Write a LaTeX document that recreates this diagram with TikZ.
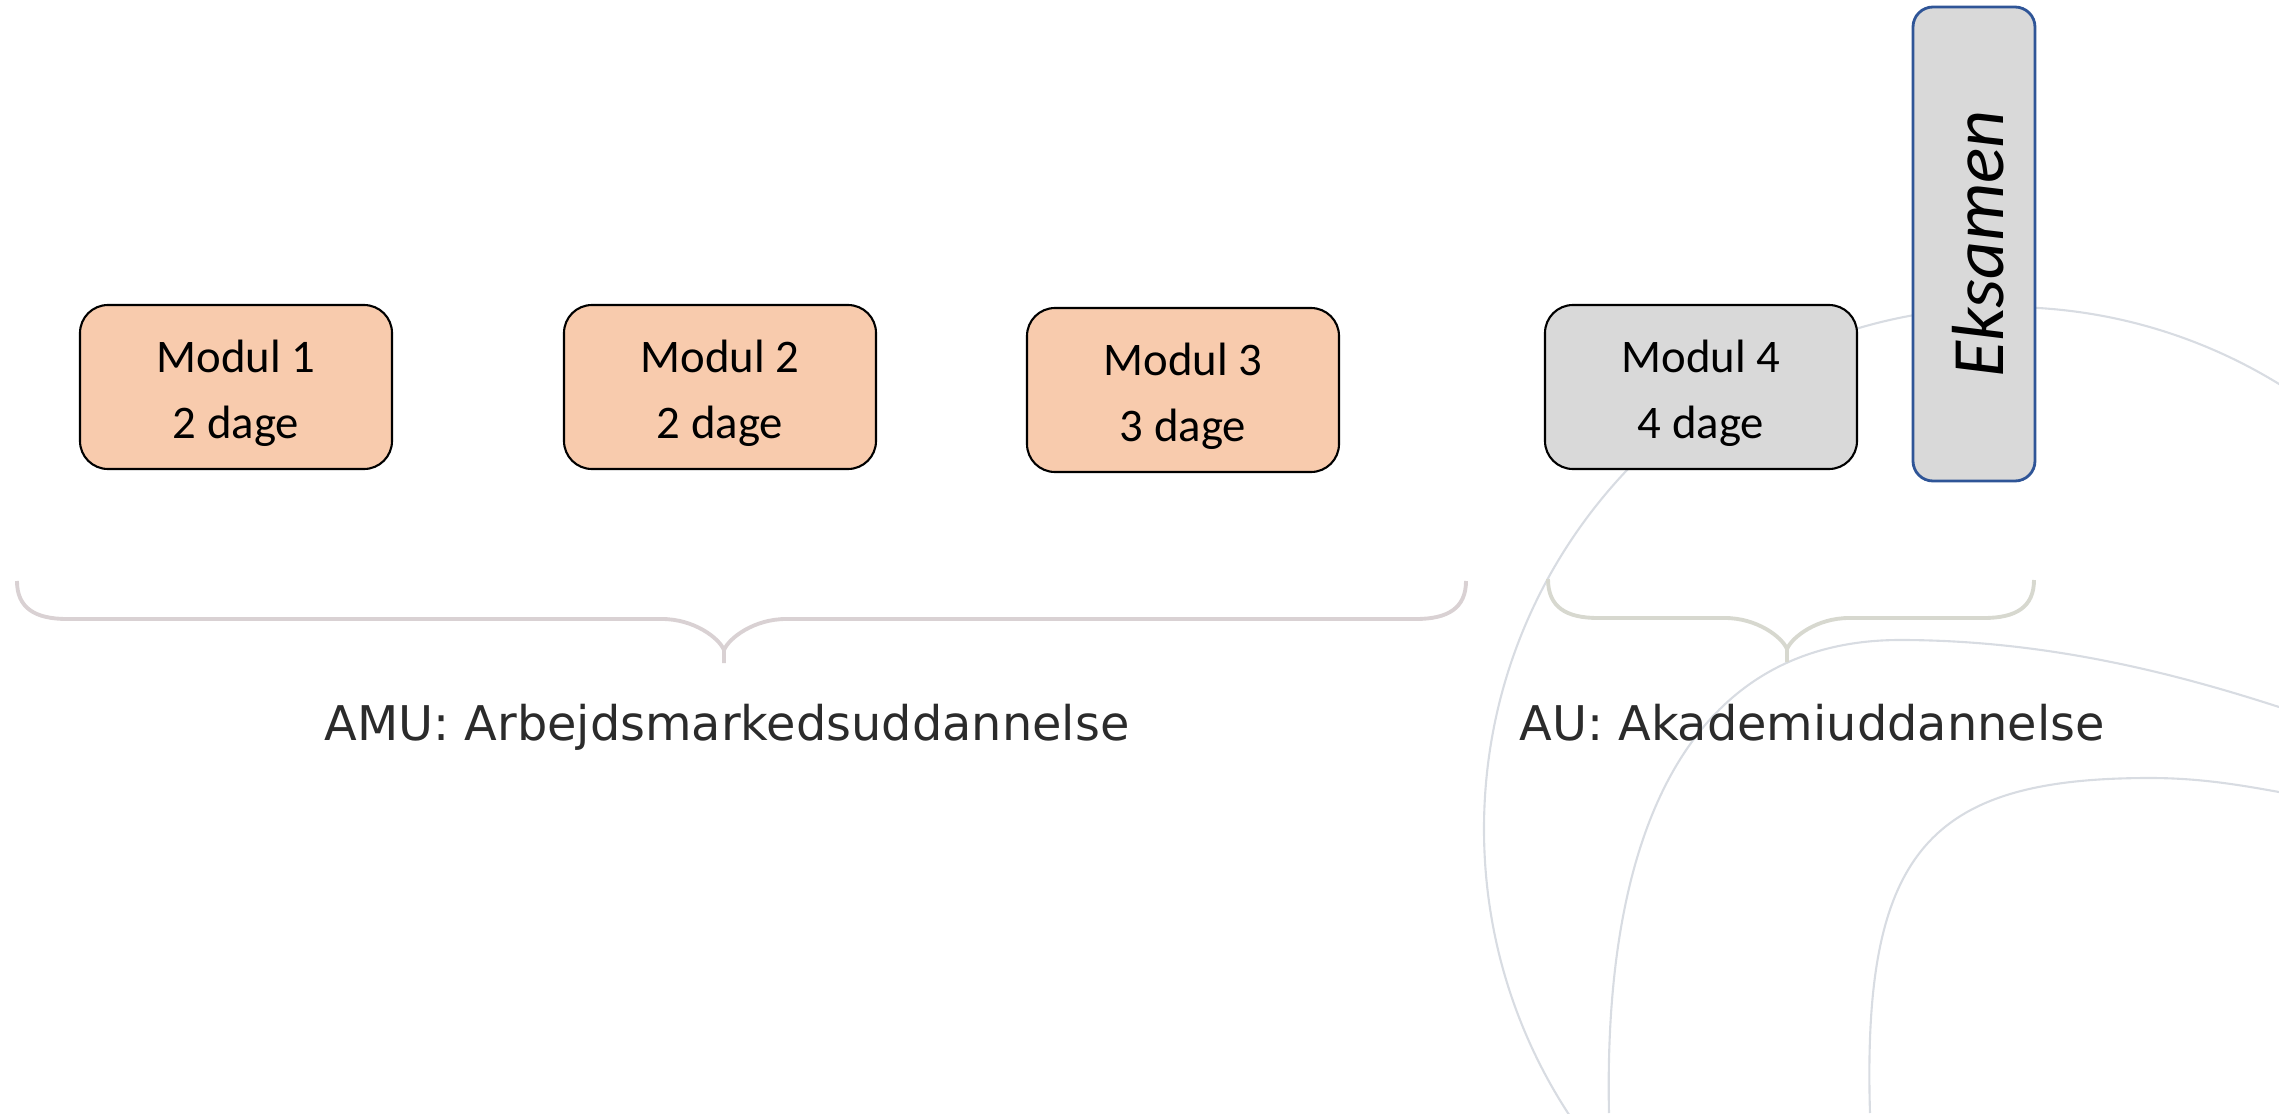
\documentclass[tikz,border=0pt]{standalone}
\usepackage{fontspec}
\setmainfont{Carlito}
\newfontfamily\etiketfont{DejaVu Sans}

\definecolor{modulorange}{HTML}{F8CBAD}
\definecolor{modulgraa}{HTML}{D9D9D9}
\definecolor{eksamenblaa}{HTML}{2F5597}
\definecolor{buegraa}{HTML}{D8DCE2}
\definecolor{klammerosa}{HTML}{D9D1D3}
\definecolor{klammegraa}{HTML}{D7D8CF}
\definecolor{tekstgraa}{HTML}{2B2B2B}

\tikzset{
  modul/.style={draw=black, line width=0.6pt, rounded corners=0.28cm,
    minimum width=3.12cm, minimum height=1.64cm, inner sep=0pt},
  modultekst/.style={align=center, inner sep=0pt,
    font=\fontsize{13.3}{18.7}\selectfont},
  eksamen/.style={draw=eksamenblaa, line width=0.8pt, fill=modulgraa,
    rounded corners=0.2cm, minimum width=1.22cm,
    minimum height=4.74cm, inner sep=0pt},
  eksamentekst/.style={rotate=90, inner sep=0pt,
    font=\fontsize{21}{25}\selectfont\itshape},
  etiket/.style={anchor=base, text=tekstgraa, inner sep=0pt,
    font=\etiketfont\fontsize{13.6}{16}\selectfont},
  klamme/.style={line width=1.1pt},
  bue/.style={draw=buegraa, line width=0.6pt}
}

\begin{document}
\begin{tikzpicture}
      \useasboundingbox (0,0) rectangle (22.79,11.13);

      % baggrundsbuer
      \begin{scope}
        \clip (0,0) rectangle (22.79,11.13);
        \draw[bue] (20.06,2.84) circle [radius=5.22];
        \draw[bue] (16.09,0) .. controls (16.03,2.83) and (16.90,4.73) .. (19.00,4.73)
          .. controls (20.50,4.73) and (21.80,4.38) .. (22.79,4.06);
        \draw[bue] (18.70,0) .. controls (18.62,2.63) and (19.30,3.35) .. (21.50,3.35)
          .. controls (22.00,3.35) and (22.40,3.28) .. (22.79,3.21);
      \end{scope}



      \node[modul, fill=modulorange] (m1) at (2.36,7.26) {};
      \node[modultekst] (m1t) at ([yshift=-0.065cm]m1) {Modul 1\\2 dage};

      \node[modul, fill=modulorange] (m2) at (7.20,7.26) {};
      \node[modultekst] (m2t) at ([yshift=-0.065cm]m2) {Modul 2\\2 dage};

      \node[modul, fill=modulorange] (m3) at (11.83,7.23) {};
      \node[modultekst] (m3t) at ([yshift=-0.065cm]m3) {Modul 3\\3 dage};

      \node[modul, fill=modulgraa] (m4) at (17.01,7.26) {};
      \node[modultekst] (m4t) at ([yshift=-0.065cm]m4) {Modul 4\\4 dage};

      \node[eksamen] (eks) at (19.74,8.69) {};
      \node[eksamentekst] (ekst) at ([xshift=0.04cm]eks) {Eksamen};



      % klammer
      \draw[klamme, klammerosa] (0.17,5.32) .. controls (0.17,5.05) and (0.35,4.94) .. (0.67,4.94)
        -- (6.62,4.94) .. controls (6.94,4.94) and (7.19,4.75) .. (7.24,4.63) -- (7.24,4.50);
      \draw[klamme, klammerosa] (14.66,5.32) .. controls (14.66,5.05) and (14.48,4.94) .. (14.16,4.94)
        -- (7.86,4.94) .. controls (7.54,4.94) and (7.29,4.75) .. (7.24,4.63);

      \draw[klamme, klammegraa] (15.48,5.34) .. controls (15.48,5.06) and (15.66,4.95) .. (15.98,4.95)
        -- (17.25,4.95) .. controls (17.57,4.95) and (17.82,4.76) .. (17.87,4.64) -- (17.87,4.51);
      \draw[klamme, klammegraa] (20.34,5.33) .. controls (20.34,5.06) and (20.16,4.95) .. (19.84,4.95)
        -- (18.49,4.95) .. controls (18.17,4.95) and (17.92,4.76) .. (17.87,4.64);


      \node[etiket] (amu) at (7.27,3.73) {AMU: Arbejdsmarkedsuddannelse};

      \node[etiket] (au) at (18.12,3.73) {AU: Akademiuddannelse};
    \end{tikzpicture}
\end{document}
